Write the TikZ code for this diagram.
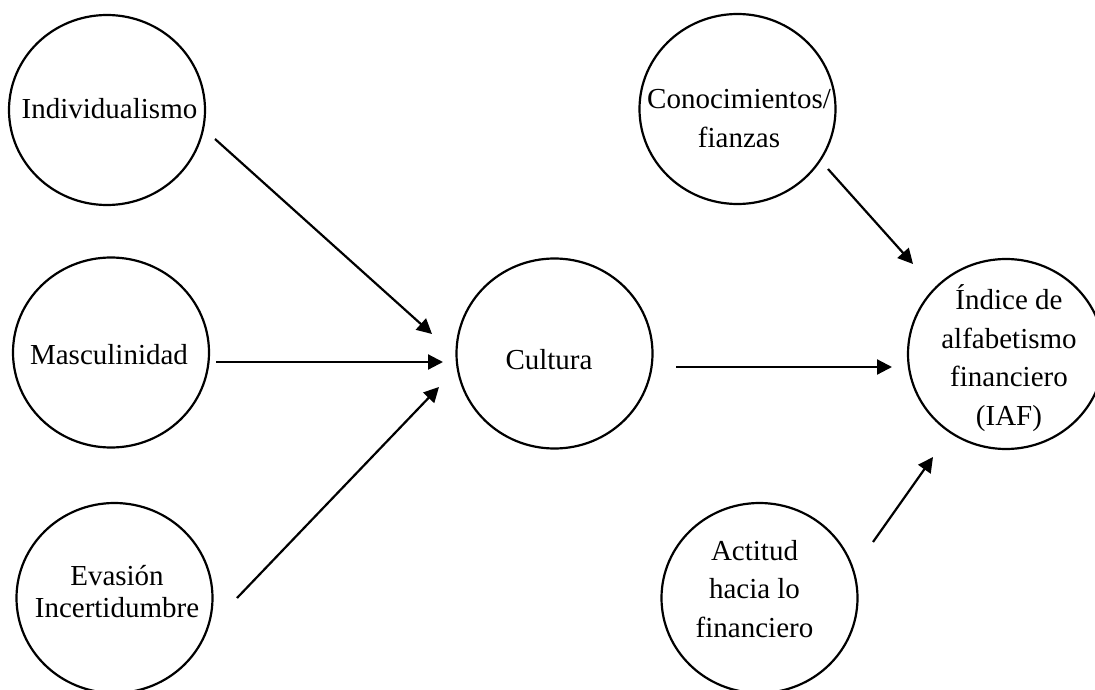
\documentclass[tikz,border=0pt]{standalone}
\usepackage{fontspec}
\setmainfont{Liberation Serif}
\usetikzlibrary{shapes.geometric,arrows.meta,calc}

\tikzset{
  concept/.style={draw, ellipse, line width=2.2pt, minimum width=196pt,
    minimum height=190pt, inner sep=0pt},
  nametext/.style={inner sep=0pt, align=center, anchor=base,
    font=\fontsize{29}{38.5}\selectfont},
  link/.style={line width=2.2pt, -{Triangle[length=15pt, width=15pt]}}
}

\begin{document}
\begin{tikzpicture}[x=1pt, y=-1pt]
\useasboundingbox (0,0) rectangle (1095,690);

% constructs
\node[concept] (ind) at (107,110)   {};
\node[concept] (mas) at (111,352.5) {};
\node[concept] (eva) at (114.5,598) {};
\node[concept] (cul) at (554.5,353.5) {};
\node[concept] (con) at (737.5,109) {};
\node[concept] (idx) at (1006,354)  {};
\node[concept] (act) at (759.5,598) {};

% names of the constructs (placed on the baseline of their last line)
\node[nametext] (indT) at (109.5,119) {Individualismo};
\node[nametext] (masT) at (109,364)   {Masculinidad};
\node[nametext, font=\fontsize{29}{32}\selectfont] (evaT) at (117,617) {Evasión\\Incertidumbre};
\node[nametext] (culT) at (549,369)   {Cultura};
\node[nametext] (conT) at (739,147)   {Conocimientos/\\fianzas};
\node[nametext] (idxT) at (1009,425)  {Índice de\\alfabetismo\\financiero\\(IAF)};
\node[nametext] (actT) at (754.5,637) {Actitud\\hacia lo\\financiero};

% arrow ends, kept clear of the circles
\coordinate (s1) at ($(ind)+(108,29)$);
\coordinate (t1) at ($(cul)+(-122.5,-19.5)$);
\coordinate (s2) at ($(mas)+(105,9.5)$);
\coordinate (t2) at ($(cul)+(-111.5,8.5)$);
\coordinate (s3) at ($(eva)+(122.5,0)$);
\coordinate (t3) at ($(cul)+(-115.5,33.5)$);
\coordinate (s4) at ($(cul)+(121.5,13.5)$);
\coordinate (t4) at ($(idx)+(-114,13)$);
\coordinate (s5) at ($(con)+(90.5,60)$);
\coordinate (t5) at ($(idx)+(-93,-90)$);
\coordinate (s6) at ($(act)+(113.5,-56)$);
\coordinate (t6) at ($(idx)+(-73,103)$);

% influences
\draw[link] (s1) -- (t1);
\draw[link] (s2) -- (t2);
\draw[link] (s3) -- (t3);
\draw[link] (s4) -- (t4);
\draw[link] (s5) -- (t5);
\draw[link] (s6) -- (t6);
\end{tikzpicture}
\end{document}
